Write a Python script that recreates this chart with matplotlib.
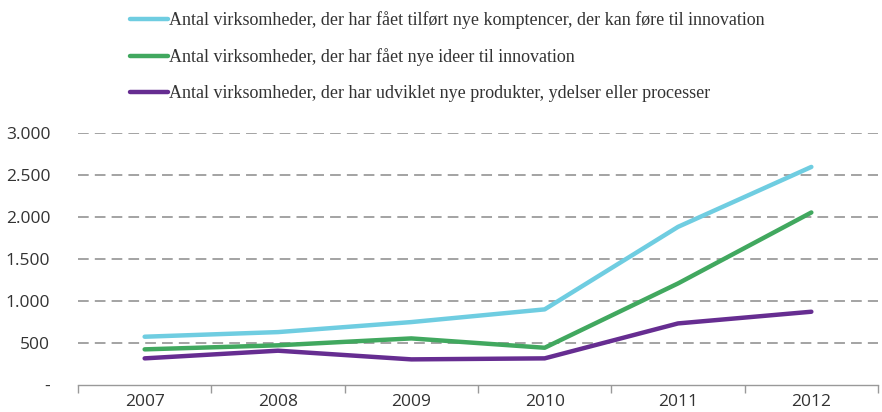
import matplotlib.pyplot as plt
from matplotlib.ticker import FuncFormatter

# Data
years = ['2007', '2008', '2009', '2010', '2011', '2012']
kompetencer = [577, 632, 751, 902, 1882, 2594]
ideer = [427, 475, 557, 446, 1210, 2053]
produkter = [320, 411, 308, 320, 735, 874]
labels = [
    'Antal virksomheder, der har fået tilført nye komptencer, der kan føre til innovation',
    'Antal virksomheder, der har fået nye ideer til innovation',
    'Antal virksomheder, der har udviklet nye produkter, ydelser eller processer',
]
colors = ['#6FCDE1', '#41A85F', '#662D91']

fig = plt.figure(figsize=(8.82, 4.12), dpi=100)
ax = fig.add_axes([0.0884, 0.0648, 0.9071, 0.613])

x = range(len(years))
for series, lab, col in zip([kompetencer, ideer, produkter], labels, colors):
    ax.plot(x, series, color=col, lw=3.2, label=lab, solid_capstyle='round')

ax.set_xlim(-0.5, len(years) - 0.5)
ax.set_ylim(0, 3000)
ax.set_yticks(range(0, 3001, 500))
ax.yaxis.set_major_formatter(FuncFormatter(
    lambda v, p: '-' if v == 0 else f'{int(v):,}'.replace(',', '.')))
ax.set_xticks(list(x))
ax.set_xticklabels(years)
ax.set_xticks([i - 0.5 for i in range(len(years) + 1)], minor=True)
ax.tick_params(axis='x', which='major', length=0, pad=6)
ax.tick_params(axis='x', which='minor', length=6, color='#999999', width=1)
ax.tick_params(axis='y', length=0, pad=20)
for lab in ax.get_xticklabels() + ax.get_yticklabels():
    lab.set_fontfamily('Open Sans')
    lab.set_fontsize(12.5)
    lab.set_color('#333333')

# Gridlines
for v in range(500, 3001, 500):
    ax.axhline(v, color='#8a8a8a', lw=1.1, dashes=(7, 4), zorder=0)

for s in ['top', 'right', 'left']:
    ax.spines[s].set_visible(False)
ax.spines['bottom'].set_color('#999999')
ax.spines['bottom'].set_linewidth(1)

leg = fig.legend(loc='upper left', bbox_to_anchor=(0.129, 1.012), frameon=False,
                 handlelength=2.1, handletextpad=0.05, labelspacing=1.05,
                 prop={'family': 'Liberation Serif', 'size': 13})
for t in leg.get_texts():
    t.set_color('#333333')

fig.savefig('out.png', dpi=100)
